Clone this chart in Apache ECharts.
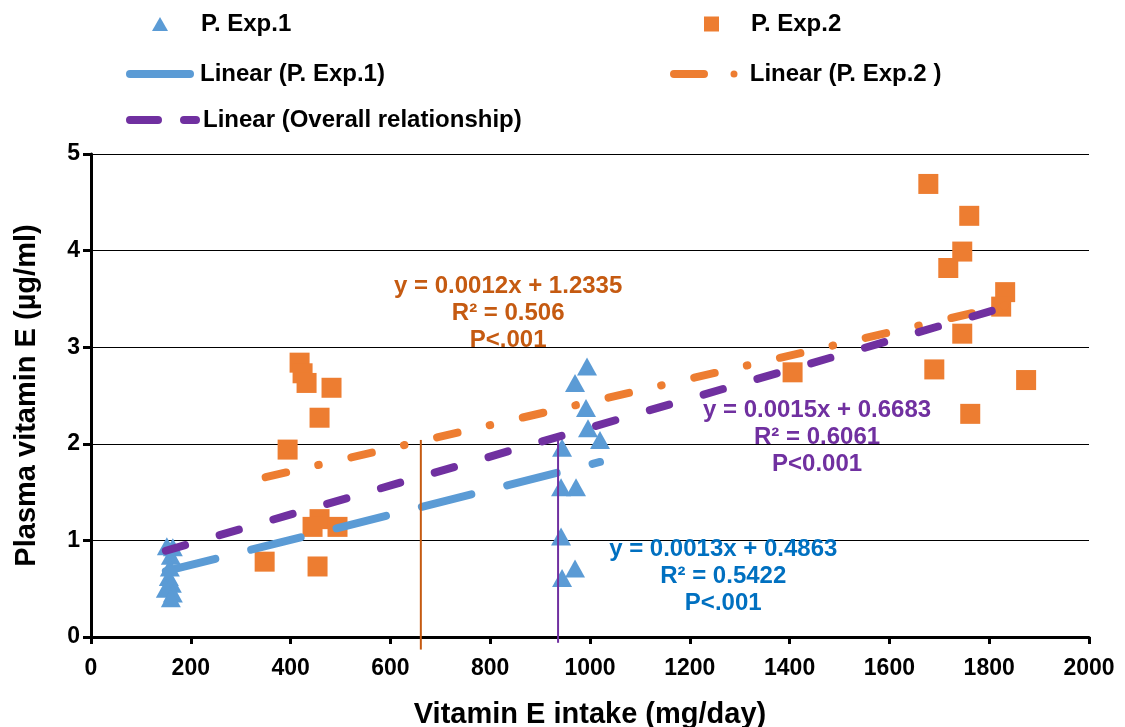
<!DOCTYPE html>
<html>
<head>
<meta charset="utf-8">
<script src="https://cdn.jsdelivr.net/npm/echarts@6/dist/echarts.min.js"></script>
<style>html,body{margin:0;padding:0;background:#fff}#c{width:1125px;height:727px}</style>
</head>
<body>
<div id="c"></div>
<script>
// ---- data ----
const exp1X = [152, 164, 160, 158, 156, 162, 150, 164, 160, 994, 970, 992, 996, 1020, 944, 942, 972, 942, 970, 944];
const exp1Y = [0.94, 0.93, 0.84, 0.72, 0.62, 0.55, 0.50, 0.45, 0.40, 2.80, 2.63, 2.37, 2.16, 2.04, 1.96, 1.55, 1.55, 1.04, 0.71, 0.61];
const exp2X = [418, 424, 432, 482, 458, 394, 458, 444, 494, 348, 454, 1678, 1760, 1746, 1718, 1832, 1824, 1746, 1690, 1874, 1762, 1406];
const exp2Y = [2.84, 2.73, 2.63, 2.58, 2.27, 1.94, 1.22, 1.14, 1.14, 0.78, 0.73, 4.69, 4.36, 3.99, 3.82, 3.57, 3.42, 3.14, 2.77, 2.66, 2.31, 2.74];
const trendExp1X = [150, 1020];
const trendExp1Y = [0.681, 1.812];
const trendExp2X = [350, 1874];
const trendExp2Y = [1.654, 3.482];
const trendAllX = [150, 1874];
const trendAllY = [0.893, 3.479];
const vertOrangeX = [661, 661];
const vertOrangeY = [2.04, -0.13];
const vertPurpleX = [936, 936];
const vertPurpleY = [2.03, -0.06];
const noteOrange = { x: 836, y: 3.354, text: 'y = 0.0012x + 1.2335\nR² = 0.506\nP<.001' };
const notePurple = { x: 1455, y: 2.07, text: 'y = 0.0015x + 0.6683\nR² = 0.6061\nP<0.001' };
const noteBlue = { x: 1267, y: 0.631, text: 'y = 0.0013x + 0.4863\nR² = 0.5422\nP<.001' };
const xTicks = { min: 0, max: 2000, interval: 200 };
const yTicks = { min: 0, max: 5, interval: 1 };
const names = ['P. Exp.1', 'P. Exp.2', 'Linear (P. Exp.1)', 'Linear (P. Exp.2 )', 'Linear (Overall relationship)'];

const zip = (a, b) => a.map((v, i) => [v, b[i]]);
const FONT = '"Liberation Sans", Arial, sans-serif';
const BLUE = '#5B9BD5', ORANGE = '#ED7D31', PURPLE = '#7030A0';

function legendBox(name, left, top, w, h, icon, pad) {
  return {
    data: [{ name: name, icon: icon }],
    left: left, top: top, padding: 0,
    itemWidth: w, itemHeight: h,
    itemStyle: { borderWidth: 0, opacity: 1 },
    selectedMode: false,
    textStyle: { fontFamily: FONT, fontWeight: 'bold', fontSize: 24, color: '#000', padding: [0, 0, 0, pad], lineHeight: 26 }
  };
}
const triIcon = 'path://M8,0L16,14L0,14Z';
const sqIcon = 'path://M0,0H15V15H0Z';
const blueIcon = 'path://M4,0H64A4,4,0,0,1,64,8H4A4,4,0,0,1,4,0Z';
const orangeIcon = 'path://M4,0H34A4,4,0,0,1,34,8H4A4,4,0,0,1,4,0ZM64,0.5A3.5,3.5,0,1,1,64,7.5A3.5,3.5,0,1,1,64,0.5Z';
const purpleIcon = 'path://M4,0H32A4,4,0,0,1,32,8H4A4,4,0,0,1,4,0ZM58,0H70A4,4,0,0,1,70,8H58A4,4,0,0,1,58,0Z';

function note(n, color) {
  return {
    type: 'scatter', data: [[n.x, n.y]], symbolSize: 0.1, z: 5, silent: true,
    itemStyle: { color: 'transparent', opacity: 1 },
    label: { show: true, position: 'inside', formatter: n.text, align: 'center', verticalAlign: 'middle', opacity: 1,
      fontFamily: FONT, fontWeight: 'bold', fontSize: 24, lineHeight: 27, color: color }
  };
}

const chart = echarts.init(document.getElementById('c'), null, { renderer: 'canvas' });
chart.setOption({
  animation: false,
  backgroundColor: '#fff',
  legend: [
    legendBox(names[0], 152, 11, 16, 14, triIcon, 28),
    legendBox(names[1], 704, 11, 15, 15, sqIcon, 27),
    legendBox(names[2], 126, 61, 68, 8, blueIcon, 1),
    legendBox(names[3], 670, 61, 68, 8, orangeIcon, 7),
    legendBox(names[4], 126, 107, 74, 8, purpleIcon, -2)
  ],
  grid: { left: 91, right: 36, top: 154, bottom: 90, containLabel: false, outerBoundsMode: 'none' },
  xAxis: {
    type: 'value', min: xTicks.min, max: xTicks.max, interval: xTicks.interval,
    name: 'Vitamin E intake (mg/day)', nameLocation: 'middle', nameGap: 63,
    nameTextStyle: { fontFamily: FONT, fontWeight: 'bold', fontSize: 29, color: '#000' },
    axisLine: { show: true, onZero: false, lineStyle: { color: '#000', width: 3 } },
    axisTick: { show: true, length: 7, lineStyle: { color: '#000', width: 3 } },
    axisLabel: { fontFamily: FONT, fontWeight: 'bold', fontSize: 23, color: '#000', margin: 20, formatter: v => String(v) },
    splitLine: { show: false }
  },
  yAxis: {
    type: 'value', min: yTicks.min, max: yTicks.max, interval: yTicks.interval,
    name: 'Plasma vitamin E (µg/ml)', nameLocation: 'middle', nameGap: 50,
    nameTextStyle: { fontFamily: FONT, fontWeight: 'bold', fontSize: 29, color: '#000' },
    axisLine: { show: true, onZero: false, lineStyle: { color: '#000', width: 3 } },
    axisTick: { show: true, length: 8, lineStyle: { color: '#000', width: 3 } },
    axisLabel: { fontFamily: FONT, fontWeight: 'bold', fontSize: 23, color: '#000', margin: 11, formatter: v => String(v) },
    splitLine: { show: true, lineStyle: { color: '#000', width: 1.2 } }
  },
  series: [
    { name: names[0], type: 'scatter', z: 2, data: zip(exp1X, exp1Y), symbol: 'triangle', symbolSize: [20, 18],
      itemStyle: { color: BLUE, opacity: 1 } },
    { name: names[1], type: 'scatter', z: 2, data: zip(exp2X, exp2Y), symbol: 'rect', symbolSize: 20,
      itemStyle: { color: ORANGE, opacity: 1 } },
    { name: names[2], type: 'line', z: 3, data: zip(trendExp1X, trendExp1Y), symbol: 'none',
      itemStyle: { color: BLUE },
      lineStyle: { color: BLUE, width: 8, cap: 'round', type: [51, 37] } },
    { name: names[3], type: 'line', z: 3, data: zip(trendExp2X, trendExp2Y), symbol: 'none',
      itemStyle: { color: ORANGE },
      lineStyle: { color: ORANGE, width: 8, cap: 'round', type: [21, 33, 0.5, 33.5] } },
    { name: names[4], type: 'line', z: 3, data: zip(trendAllX, trendAllY), symbol: 'none',
      itemStyle: { color: PURPLE },
      lineStyle: { color: PURPLE, width: 8, cap: 'round', type: [20, 36] } },
    { type: 'line', z: 4, data: zip(vertOrangeX, vertOrangeY), symbol: 'none', clip: false, silent: true,
      lineStyle: { color: '#C55A11', width: 2 } },
    { type: 'line', z: 4, data: zip(vertPurpleX, vertPurpleY), symbol: 'none', clip: false, silent: true,
      lineStyle: { color: PURPLE, width: 2 } },
    note(noteOrange, '#C55A11'),
    note(notePurple, PURPLE),
    note(noteBlue, '#0070C0')
  ]
});
</script>
</body>
</html>
